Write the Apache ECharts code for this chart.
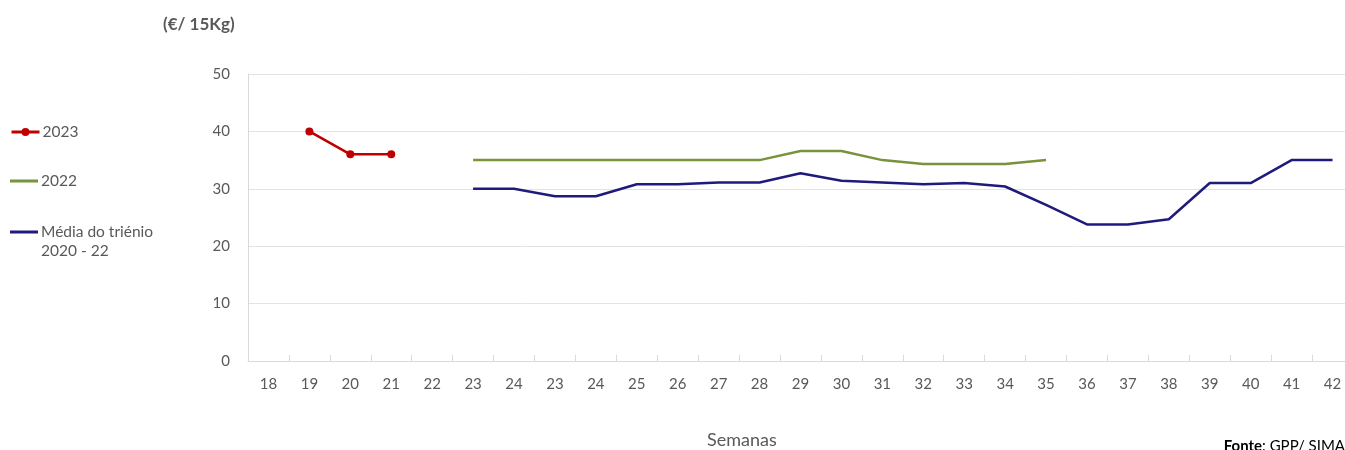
<!DOCTYPE html>
<html>
<head>
<meta charset="utf-8">
<script src="https://cdn.jsdelivr.net/npm/echarts@6/dist/echarts.min.js"></script>
<style>
  html, body { margin: 0; padding: 0; background: #fff; overflow: hidden; }
  /* o grafico original corta a ultima coluna na margem direita */
  #chart { width: 1353px; height: 450px; }
</style>
</head>
<body>
<div id="chart"></div>
<script>
// semanas (o eixo repete 23 e 24 como no original)
const semanas = ['18', '19', '20', '21', '22', '23', '24', '23', '24', '25', '26', '27', '28', '29', '30',
  '31', '32', '33', '34', '35', '36', '37', '38', '39', '40', '41', '42']
const serie2023 = [null, 40, 36, 36]
const serie2022 = [null, null, null, null, null, 35, 35, 35, 35, 35, 35, 35, 35, 36.6, 36.6, 35, 34.3, 34.3, 34.3, 35]
const mediaTrienio = [null, null, null, null, null, 30, 30, 28.7, 28.7, 30.8, 30.8, 31.1, 31.1, 32.7, 31.4,
  31.1, 30.8, 31.0, 30.4, 27.2, 23.8, 23.8, 24.7, 31, 31, 35, 35]
const yTicks = [0, 10, 20, 30, 40, 50]

const font = 'Lato, "Open Sans", sans-serif'
const textGrey = '#595959'

const chart = echarts.init(document.getElementById('chart'))

// uma legenda por serie, para controlar a posicao de cada uma
function legendFor(name, top, icon) {
  const item = icon ? { name: name, icon: icon } : { name: name }
  return {
    left: 5,
    top: top,
    orient: 'vertical',
    data: [item],
    itemWidth: 28,
    itemHeight: icon ? 3 : 10,
    itemGap: 0,
    selectedMode: false,
    lineStyle: icon ? undefined : { width: 3 },
    textStyle: { color: textGrey, fontFamily: font, fontSize: 15.5, padding: [0, 0, 0, -2] }
  }
}

chart.setOption({
  animation: false,
  textStyle: { fontFamily: font },
  legend: [
    legendFor('2023', 119),
    legendFor('2022', 168, 'rect'),
    legendFor('Média do triénio', 219, 'rect')
  ],
  graphic: [
    { type: 'text', left: 41, top: 243, style: { text: '2020 - 22', fill: textGrey, font: '15.5px ' + font } },
    { type: 'text', left: 163, top: 16, style: { text: '(€/ 15Kg)', fill: textGrey, font: 'bold 17px ' + font } },
    { type: 'text', left: 707, top: 431, style: { text: 'Semanas', fill: textGrey, font: '18px ' + font } },
    {
      type: 'text', right: 8, top: 439,
      style: {
        text: '{b|Fonte}: GPP/ SIMA',
        fill: '#000',
        font: '15px ' + font,
        rich: { b: { fontWeight: 'bold', fontSize: 15, fontFamily: font, fill: '#000' } }
      }
    }
  ],
  grid: { left: 248, right: 0, top: 74, bottom: 89, containLabel: false },
  xAxis: {
    type: 'category',
    data: semanas,
    boundaryGap: true,
    axisLine: { lineStyle: { color: '#d9d9d9', width: 1 } },
    axisTick: { show: true, inside: true, length: 6, lineStyle: { color: '#d9d9d9' } },
    axisLabel: { color: textGrey, fontSize: 15, margin: 16, interval: 0, fontFamily: font }
  },
  yAxis: {
    type: 'value',
    min: 0,
    max: 50,
    interval: 10,
    axisLine: { show: true, lineStyle: { color: '#d9d9d9' } },
    axisTick: { show: false },
    splitLine: { lineStyle: { color: '#e3e3e3' } },
    axisLabel: {
      color: textGrey, fontSize: 15, margin: 18, fontFamily: font,
      formatter: v => (yTicks.indexOf(v) >= 0 ? String(v) : '')
    }
  },
  series: [
    {
      name: '2023',
      type: 'line',
      data: serie2023,
      symbol: 'circle',
      symbolSize: 8,
      itemStyle: { color: '#c00000' },
      lineStyle: { color: '#c00000', width: 2.5 }
    },
    {
      name: '2022',
      type: 'line',
      data: serie2022,
      showSymbol: false,
      itemStyle: { color: '#77933c' },
      lineStyle: { color: '#77933c', width: 2.5 }
    },
    {
      name: 'Média do triénio',
      type: 'line',
      data: mediaTrienio,
      showSymbol: false,
      itemStyle: { color: '#1f1a7c' },
      lineStyle: { color: '#1f1a7c', width: 2.5 }
    }
  ]
})
</script>
</body>
</html>
